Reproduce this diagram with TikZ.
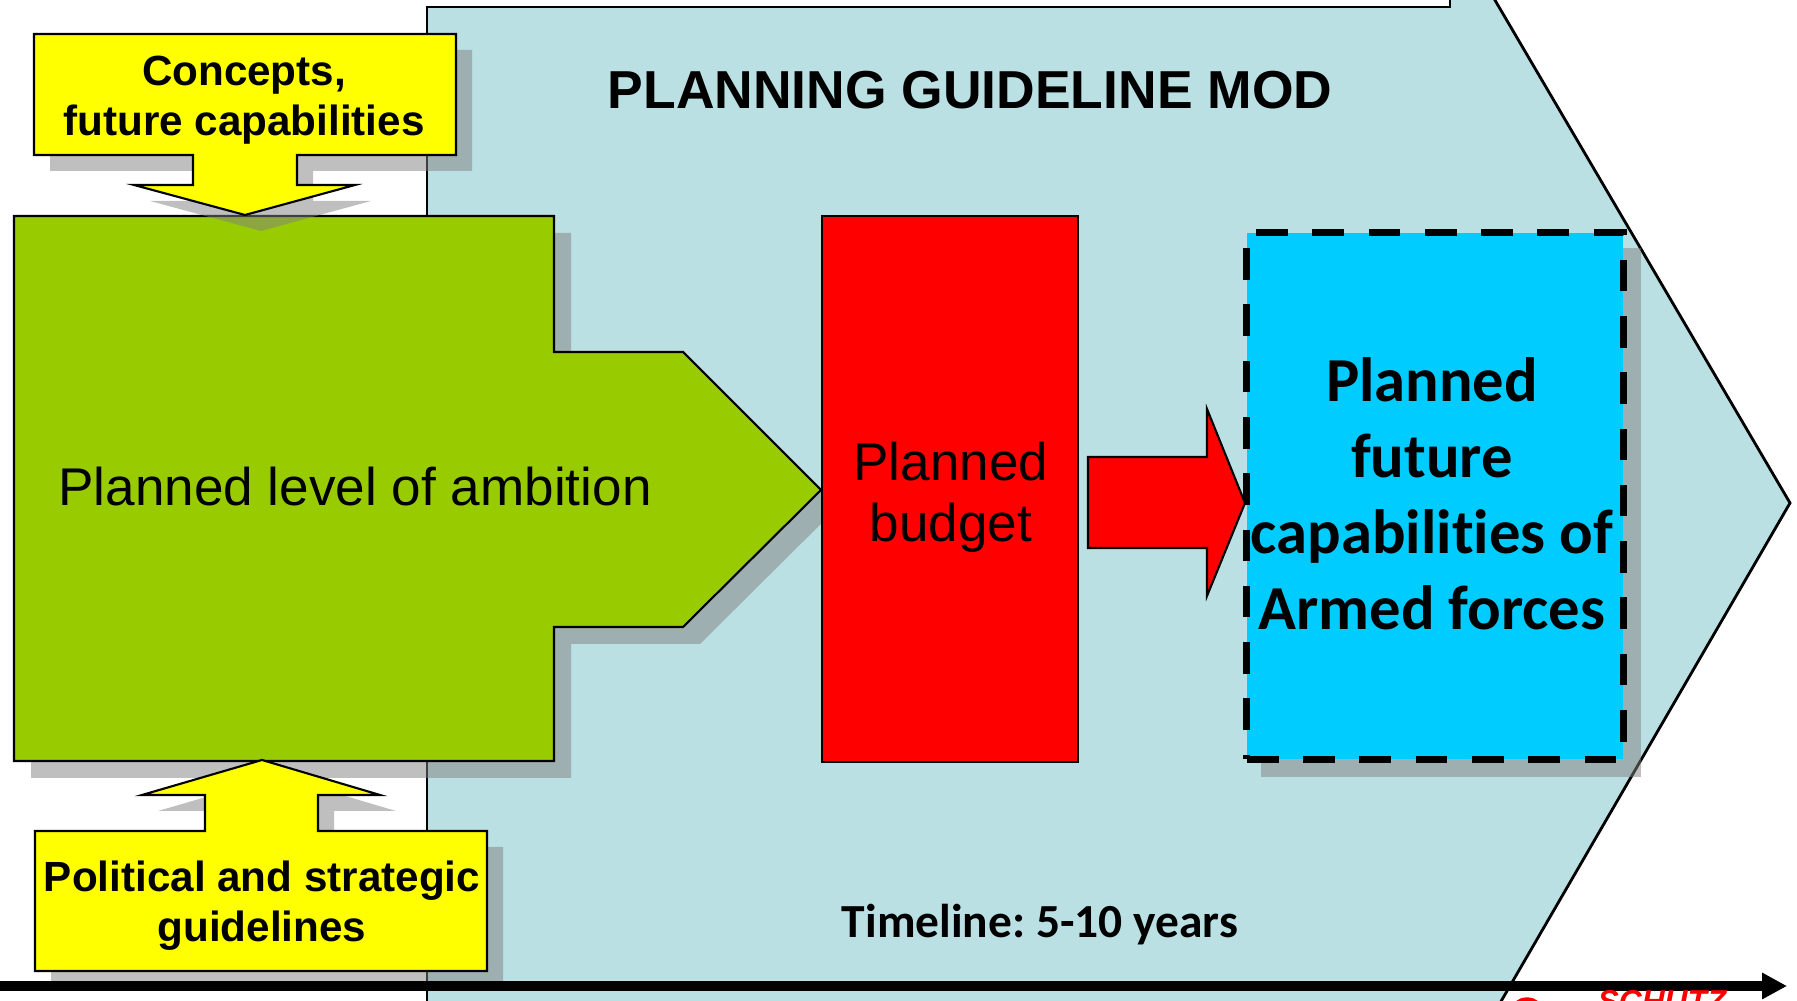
\documentclass[tikz,border=0pt]{standalone}
\usepackage{fontspec}
\setmainfont{Liberation Sans}
\newfontfamily\calfont[Ligatures=NoCommon]{Carlito}
\usepackage{tikz}
\usetikzlibrary{arrows.meta,calc,positioning}
\definecolor{chev}{RGB}{187,224,227}
\definecolor{ylw}{RGB}{255,255,0}
\definecolor{grn}{RGB}{153,204,0}
\definecolor{cyn}{RGB}{0,204,255}
\frenchspacing

\def\ambshape{(14,216) -- (554,216) -- (554,352) -- (683,352) -- (821,490) -- (683,627) -- (554,627) -- (554,761) -- (14,761) -- cycle}
\def\concshape{(34,34) -- (456,34) -- (456,155) -- (297,155) -- (297,185) -- (355,185) -- (245,215) -- (134,185) -- (193,185) -- (193,155) -- (34,155) -- cycle}
\def\polshape{(35,831) -- (205,831) -- (205,795) -- (142,795) -- (262,760) -- (380,795) -- (318,795) -- (318,831) -- (487,831) -- (487,971) -- (35,971) -- cycle}

\begin{document}
\begin{tikzpicture}[x=0.01cm,y=-0.01cm,
  outl/.style={draw=black,line width=0.6pt},
  shadow/.style={fill=black!50,fill opacity=0.5},
  every node/.style={inner sep=0pt,outer sep=0pt},
  boldtxt/.style={align=center,font=\bfseries\fontsize{12}{14.2}\selectfont}]
\useasboundingbox (0,0) rectangle (1797,1001);
\clip (0,0) rectangle (1797,1001);

\fill[chev] (427,1010) -- (427,7) -- (1450,7) -- (1450,-10) -- (1489,-10) -- (1790,503) -- (1496,1010) -- cycle;
\draw[line width=0.8pt] (427,1010) -- (427,7) -- (1450,7) -- (1450,-10);
\draw[line width=0.8pt] (1489,-10) -- (1790,503) -- (1496,1010);

\path[shadow,shift={(17,17)}] \ambshape;
\path[fill=grn,outl] \ambshape;

\path[shadow,shift={(16,16)}] \concshape;
\path[fill=ylw,outl] \concshape;

\path[shadow,shift={(16,16)}] \polshape;
\path[fill=ylw,outl] \polshape;

\node (bud) at (950,489) [fill=red,outl,minimum width=2.56cm,minimum height=5.45cm] {};

\fill[shadow] (1261,248) rectangle (1641,777);
\node (cap) at (1435,496) [fill=cyn,draw=black,line width=2pt,dash pattern=on 9pt off 7pt,minimum width=3.76cm,minimum height=5.26cm] {};

\path[fill=red,outl] (1088,457) -- (1207,457) -- (1207,409) -- (1245,503) -- (1207,596) -- (1207,548) -- (1088,548) -- cycle;

\node (ttl) at (970,90) [font=\bfseries\fontsize{15.2}{18}\selectfont] {PLANNING GUIDELINE MOD};
\node (amb) at (355,487) [font=\fontsize{15.1}{18}\selectfont] {Planned level of ambition};
\node (budt) at (951,497) [align=center,font=\fontsize{15.1}{17.3}\selectfont] {Planned\\budget};
\node (capt) at (1432,494) [align=center,font=\calfont\bfseries\fontsize{17.8}{21.6}\selectfont] {Planned\\future\\capabilities of\\Armed forces};
\node (conct) at (244,100) [boldtxt] {Concepts,\\future capabilities};
\node (polt) at (262,906) [boldtxt] {Political and strategic\\guidelines};
\node (tlt) at (1040,925) [font=\calfont\bfseries\fontsize{13.5}{16}\selectfont] {Timeline: 5-10 years};

\coordinate (tl0) at (0,986);
\coordinate (tl1) at (1787,986);
\draw[line width=2.6pt,-{Triangle[length=0.25cm,width=0.25cm]}] (tl0) -- (tl1);

\node (logo) at (1662,1012) [anchor=base,text=red,font=\bfseries\itshape\fontsize{9}{10}\selectfont] {SCHUTZ};
\draw[red,line width=1.5pt] (1527,1012) ellipse [x radius=0.14cm,y radius=0.12cm];

\end{tikzpicture}
\end{document}
